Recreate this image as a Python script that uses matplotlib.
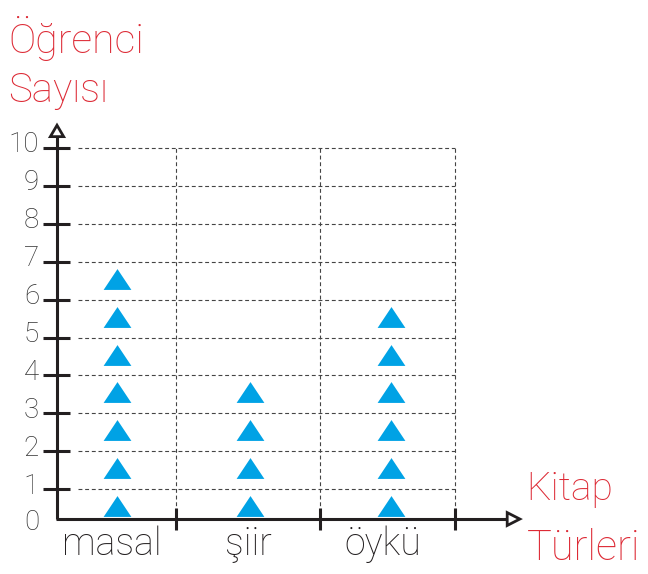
#!/usr/bin/env python3
"""Pictograph: number of students by book type."""

import matplotlib
matplotlib.use("Agg")
import matplotlib.pyplot as plt
from matplotlib.patches import Polygon
from matplotlib.path import Path

CATEGORIES = ["masal", "şiir", "öykü"]
COUNTS = [7, 4, 6]
Y_TICKS = [0, 1, 2, 3, 4, 5, 6, 7, 8, 9, 10]

RED = "#dd2a35"
BLUE = "#00a2e5"
INK = "#231f20"
GRID = "#444444"
FONT = "Roboto"
WEIGHT = "light"

# layout (x in category units, y in student units)
BASE = 0.21              # where the x axis line sits
CENTERS = [0.451, 1.451, 2.511]
LABEL_X = [0.41, 1.44, 2.45]
EDGES = [0.895, 1.977, 2.992]
GRID_X0 = 0.158

fig = plt.figure(figsize=(6.48, 5.74), dpi=100)
ax = fig.add_axes([0, 0, 1, 1])
ax.set_xlim(-57 / 133, 591 / 133)
ax.set_ylim((527 - 574) / 37.9, 527 / 37.9)
ax.axis("off")

# dashed grid
for v in Y_TICKS[1:]:
    ax.plot([GRID_X0, EDGES[-1]], [v, v], color=GRID, lw=0.8,
            ls=(0, (3.5, 2.5)), zorder=1)
for e in EDGES:
    ax.plot([e, e], [BASE, Y_TICKS[-1]], color=GRID, lw=0.8,
            ls=(0, (3.5, 2.5)), zorder=1)

# axes lines
ax.plot([0, 0], [BASE, 10.3], color=INK, lw=2.2, solid_capstyle="butt", zorder=3)
ax.plot([-0.005, 3.39], [BASE, BASE], color=INK, lw=2.2, solid_capstyle="butt", zorder=3)
ax.add_patch(Polygon([(0, 10.6), (-0.05, 10.3), (0.05, 10.3)], closed=True,
                     facecolor="white", edgecolor=INK, lw=2.0, zorder=4))
ax.add_patch(Polygon([(3.48, BASE), (3.385, BASE + 0.17), (3.385, BASE - 0.17)],
                     closed=True, facecolor="white", edgecolor=INK, lw=2.0, zorder=4))

# ticks
for v in Y_TICKS[1:]:
    ax.plot([-0.105, 0.098], [v, v], color=INK, lw=2.2, solid_capstyle="butt", zorder=3)
for e in EDGES:
    ax.plot([e, e], [-0.08, 0.5], color=INK, lw=2.2, solid_capstyle="butt", zorder=3)

for v in Y_TICKS:
    y = v + 0.08 if v > 0 else BASE - 0.08
    ax.text(-0.135, y, str(v), ha="right", va="center", fontsize=20,
            family=FONT, fontweight=WEIGHT, color="#333333")

# triangles
tri = Path([(-1, -0.75), (1, -0.75), (0, 0.75), (-1, -0.75)])
for cx, n in zip(CENTERS, COUNTS):
    ys = [k + 0.55 for k in range(n)]
    ax.plot([cx] * n, ys, ls="none", marker=tri, markersize=20,
            color=BLUE, markeredgewidth=0, zorder=2)

for lx, name in zip(LABEL_X, CATEGORIES):
    ax.text(lx, -0.74, name, ha="center", va="baseline", fontsize=27,
            family=FONT, fontweight=WEIGHT, color=INK)

# axis titles
ax.text(-0.368, 12.51, "Öğrenci", ha="left", va="baseline", fontsize=29.5,
        family=FONT, fontweight=WEIGHT, color=RED)
ax.text(-0.368, 11.21, "Sayısı", ha="left", va="baseline", fontsize=29,
        family=FONT, fontweight=WEIGHT, color=RED)
ax.text(3.53, 0.71, "Kitap", ha="left", va="baseline", fontsize=28,
        family=FONT, fontweight=WEIGHT, color=RED)
ax.text(3.53, -0.87, "Türleri", ha="left", va="baseline", fontsize=30,
        family=FONT, fontweight=WEIGHT, color=RED)

fig.savefig("out.png", dpi=100)
